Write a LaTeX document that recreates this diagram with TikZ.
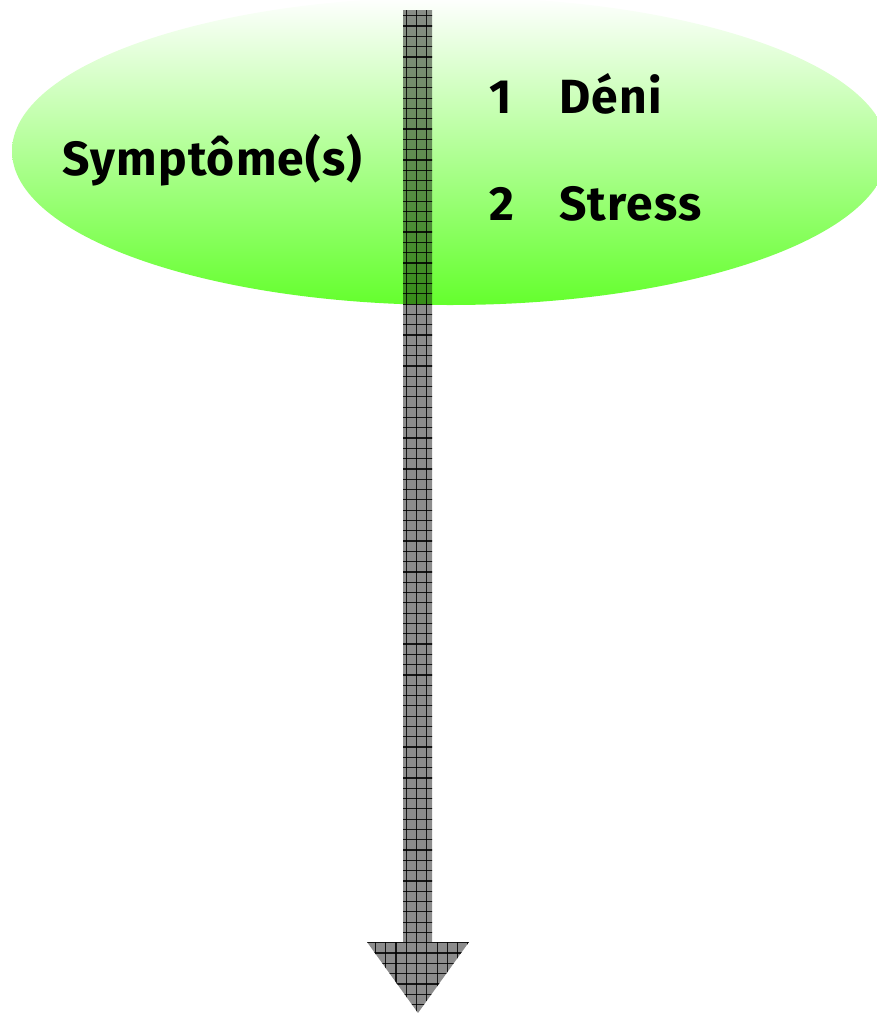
\documentclass[tikz,border=0pt]{standalone}
\usepackage{fontspec}
\setmainfont{Fira Sans}
\usetikzlibrary{shapes.geometric}
\definecolor{gbot}{RGB}{100,255,45}
\definecolor{gtop}{RGB}{255,255,255}
\tikzset{
  blob/.style={ellipse, draw=none, top color=gtop, bottom color=gbot, minimum width=876pt, minimum height=308pt, inner sep=0pt},
  lbl/.style={anchor=base west, inner sep=0pt, font=\fontsize{48}{52}\selectfont\bfseries\addfontfeature{LetterSpace=2.5}, text=black},
  gridline/.style={line width=1.2pt, draw=black, opacity=0.85},
  arrowfill/.style={fill=black, fill opacity=0.45, draw=none}
}
\begin{document}
\begin{tikzpicture}[x=1pt,y=-1pt]
\useasboundingbox (0,0) rectangle (877,1013);
\node[blob] (sym) at (450,151) {};
\node[lbl] (t0) at (62,175) {Symptôme(s)};
\node[lbl] (n1) at (489,113) {1};
\node[lbl] (d1) at (559,113) {Déni};
\node[lbl] (n2) at (489,220) {2};
\node[lbl] (d2) at (559,220) {Stress};
% arrow
\coordinate (a1) at (403,10);
\coordinate (a2) at (432,10);
\coordinate (a3) at (432,942);
\coordinate (a4) at (469,942);
\coordinate (tip) at (418,1013);
\coordinate (a6) at (367,942);
\coordinate (a7) at (403,942);
\path[arrowfill] (a1) -- (a2) -- (a3) -- (a4) -- (tip) -- (a6) -- (a7) -- cycle;
\begin{scope}
\clip (a1) -- (a2) -- (a3) -- (a4) -- (tip) -- (a6) -- (a7) -- cycle;
\foreach \i in {-5,...,5} {
  \draw[gridline] (416.5+\i*10.3,0) -- (416.5+\i*10.3,1013);
}
\foreach \j in {0,...,100} {
  \draw[gridline] (360,1004.5-\j*10.3) -- (480,1004.5-\j*10.3);
}
\end{scope}
\end{tikzpicture}
\end{document}
